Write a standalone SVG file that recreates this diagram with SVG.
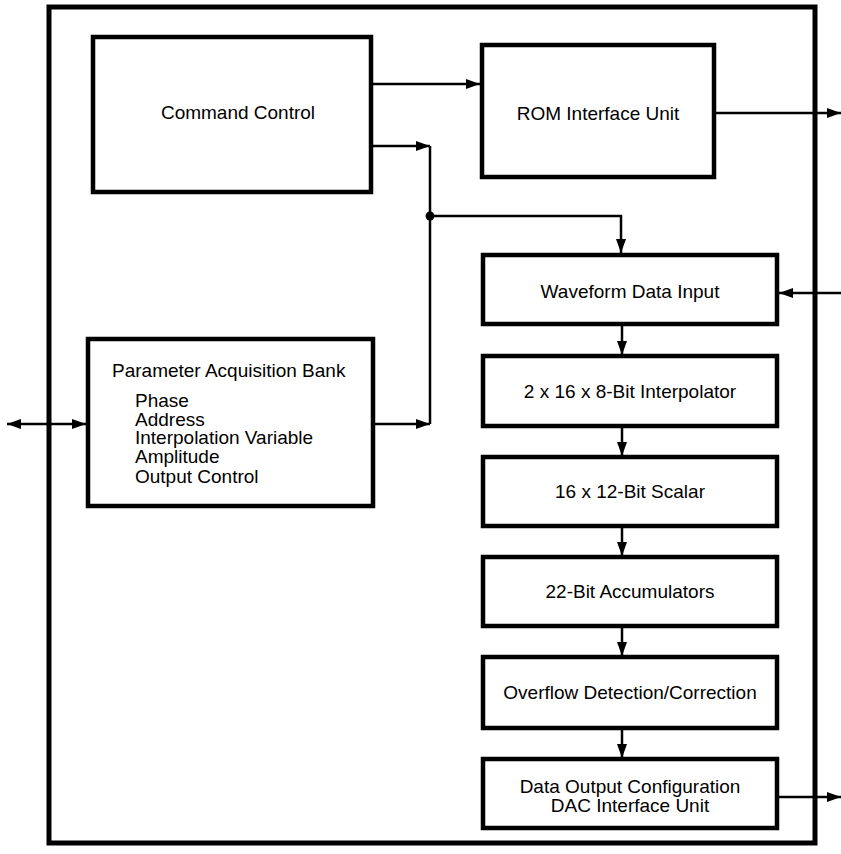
<svg xmlns="http://www.w3.org/2000/svg" width="841" height="854" viewBox="0 0 841 854">
<defs>
<marker id="ah" markerUnits="userSpaceOnUse" markerWidth="15" markerHeight="11" refX="14" refY="5" orient="auto-start-reverse" viewBox="0 0 15 11">
<path d="M0,0 L14,5 L0,10 z" fill="#000"/>
</marker>
<style>
.box{fill:#fff;stroke:#000;stroke-width:4.5}
.frame{fill:none;stroke:#000;stroke-width:5}
.t{font-family:"Liberation Sans",Arial,Helvetica,sans-serif;font-size:19px;fill:#000}
.c{text-anchor:middle}
.ln{fill:none;stroke:#000;stroke-width:2.5}
.arr{marker-end:url(#ah)}
</style>
</defs>
<rect width="841" height="854" fill="#fff"/>
<rect class="frame" x="49" y="7" width="766" height="836"/>
<g id="connectors">
<path class="ln arr" d="M373,84 H480"/>
<path class="ln arr" d="M373,146 H430"/>
<path class="ln arr" d="M375,424 H430"/>
<path class="ln" d="M430,146 V424"/>
<circle cx="430" cy="216" r="4.5" fill="#000"/>
<path class="ln arr" d="M430,216 H621 V253"/>
<path class="ln arr" d="M716,113 H841"/>
<path class="ln arr" d="M841,293 H779"/>
<path class="ln arr" d="M622,326 V355"/>
<path class="ln arr" d="M622,428 V456"/>
<path class="ln arr" d="M622,528 V556"/>
<path class="ln arr" d="M622,628 V656"/>
<path class="ln arr" d="M622,730 V758"/>
<path class="ln arr" d="M778,797 H841"/>
<path class="ln" d="M7,424 H86" marker-start="url(#ah)" marker-end="url(#ah)"/>
</g>
<g id="command-control">
<rect class="box" x="93" y="37" width="278" height="155"/>
<text class="t c" x="238" y="119">Command Control</text>
</g>
<g id="rom-interface">
<rect class="box" x="482" y="45" width="232" height="132"/>
<text class="t c" x="598" y="120">ROM Interface Unit</text>
</g>
<g id="parameter-bank">
<rect class="box" x="88" y="339" width="285" height="167"/>
<text class="t" x="112" y="377">Parameter Acquisition Bank</text>
<text class="t" x="135" y="407">Phase</text>
<text class="t" x="135" y="426">Address</text>
<text class="t" x="135" y="444">Interpolation Variable</text>
<text class="t" x="135" y="463">Amplitude</text>
<text class="t" x="135" y="483">Output Control</text>
</g>
<g id="waveform-data-input">
<rect class="box" x="483" y="255" width="294" height="69"/>
<text class="t c" x="630" y="298">Waveform Data Input</text>
</g>
<g id="interpolator">
<rect class="box" x="483" y="356" width="294" height="70"/>
<text class="t c" x="630" y="398">2 x 16 x 8-Bit Interpolator</text>
</g>
<g id="scalar">
<rect class="box" x="483" y="457" width="294" height="69"/>
<text class="t c" x="630" y="498">16 x 12-Bit Scalar</text>
</g>
<g id="accumulators">
<rect class="box" x="483" y="557" width="294" height="69"/>
<text class="t c" x="630" y="598">22-Bit Accumulators</text>
</g>
<g id="overflow">
<rect class="box" x="483" y="657" width="294" height="71"/>
<text class="t c" x="630" y="699">Overflow Detection/Correction</text>
</g>
<g id="data-output">
<rect class="box" x="483" y="759" width="294" height="69"/>
<text class="t c" x="630" y="793">Data Output Configuration</text>
<text class="t c" x="630" y="812">DAC Interface Unit</text>
</g>
</svg>
